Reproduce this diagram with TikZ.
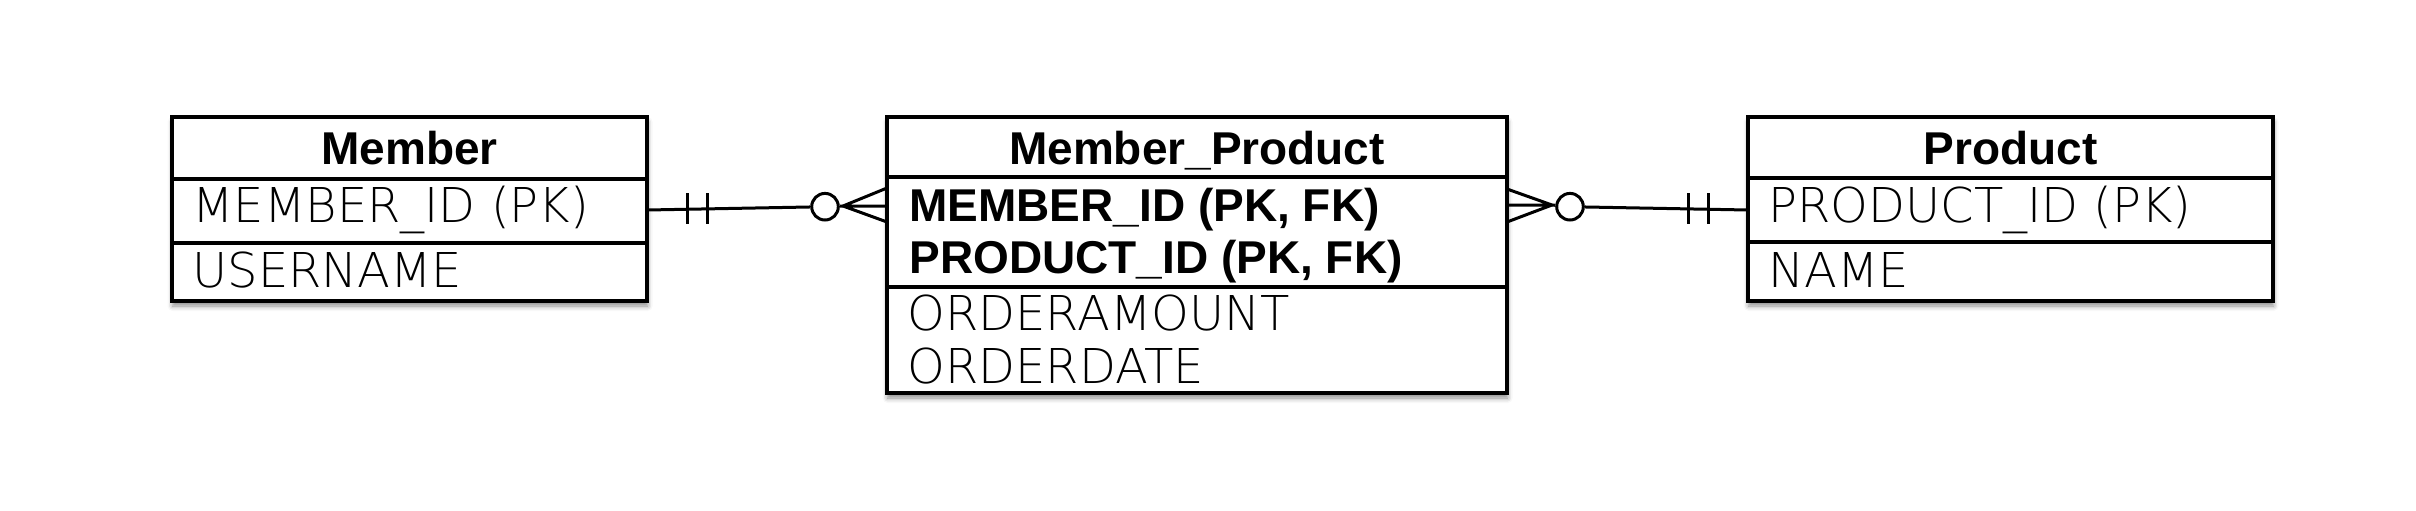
\documentclass[tikz,border=0pt]{standalone}
\usepackage{fontspec}
\setmainfont{DejaVu Sans}
\newfontfamily\thinf{DejaVu Sans ExtraLight}
\newfontfamily\boldh{Liberation Sans Bold}
\usetikzlibrary{shadows.blur}
\tikzset{
  entity/.style={draw=black, line width=1.6pt, fill=white, rectangle, inner sep=0pt,
    blur shadow={shadow xshift=0.3pt, shadow yshift=-2.5pt, shadow blur radius=2.5pt, shadow opacity=45}},
  sep/.style={line width=1.6pt},
  conn/.style={line width=1.5pt},
  hdr/.style={anchor=base, inner sep=0pt, font=\boldh\fontsize{23}{27}\selectfont},
  fld/.style={anchor=base west, inner sep=0pt, font=\thinf\fontsize{24}{28}\selectfont},
  keyfld/.style={anchor=base west, inner sep=0pt, font=\boldh\fontsize{23}{27}\selectfont},
  zero/.style={circle, draw=black, line width=1.5pt, fill=white, minimum size=13.3pt, inner sep=0pt},
}
\begin{document}
\begin{tikzpicture}[x=0.5pt, y=-0.5pt]
\useasboundingbox (0,0) rectangle (2416,510);
% boxes
\node[entity, minimum width=237.5pt, minimum height=92pt] (member) at (409.5,209) {};
\node[entity, minimum width=310pt, minimum height=138pt] (mp) at (1197,255) {};
\node[entity, minimum width=262.5pt, minimum height=92pt] (product) at (2010.5,209) {};
% separators
\draw[sep] (172,179) -- (647,179);
\draw[sep] (172,243) -- (647,243);
\draw[sep] (887,177) -- (1507,177);
\draw[sep] (887,287) -- (1507,287);
\draw[sep] (1748,178) -- (2273,178);
\draw[sep] (1748,242) -- (2273,242);
% texts
\node[hdr] (memberh) at (409.5,164) {Member};
\node[fld] (m1) at (192,222) {MEMBER\_ID (PK)};
\node[fld] (m2) at (192,287) {USERNAME};
\node[hdr] (mph) at (1197,164) {Member\_Product};
\node[keyfld] (mp1) at (909,221) {MEMBER\_ID (PK, FK)};
\node[keyfld] (mp2) at (909,273) {PRODUCT\_ID (PK, FK)};
\node[fld] (mp3) at (907,330) {ORDERAMOUNT};
\node[fld] (mp4) at (907,383) {ORDERDATE};
\node[hdr] (producth) at (2010.5,164) {Product};
\node[fld] (p1) at (1768,222) {PRODUCT\_ID (PK)};
\node[fld] (p2) at (1768,287) {NAME};
% left connector
\coordinate (ls) at (647,210);
\node[zero] (o1) at (825,206.7) {};
\coordinate (f1) at (843,206);
\coordinate (f1a) at (887,188);
\coordinate (f1b) at (887,206);
\coordinate (f1c) at (887,222);
\draw[conn] (ls) -- (o1);
\draw[conn] (o1) -- (f1);
\draw[conn] (f1) -- (f1a) (f1) -- (f1b) (f1) -- (f1c);
\draw[conn] (687,193) -- (687,224) (707,193) -- (707,224);
% right connector
\coordinate (rs) at (1748,210);
\node[zero] (o2) at (1570,206.7) {};
\coordinate (f2) at (1552,205);
\coordinate (f2a) at (1507,189);
\coordinate (f2b) at (1507,205);
\coordinate (f2c) at (1507,222);
\draw[conn] (o2) -- (rs);
\draw[conn] (f2) -- (o2);
\draw[conn] (f2) -- (f2a) (f2) -- (f2b) (f2) -- (f2c);
\draw[conn] (1688,193) -- (1688,224) (1708,193) -- (1708,224);
\end{tikzpicture}
\end{document}
